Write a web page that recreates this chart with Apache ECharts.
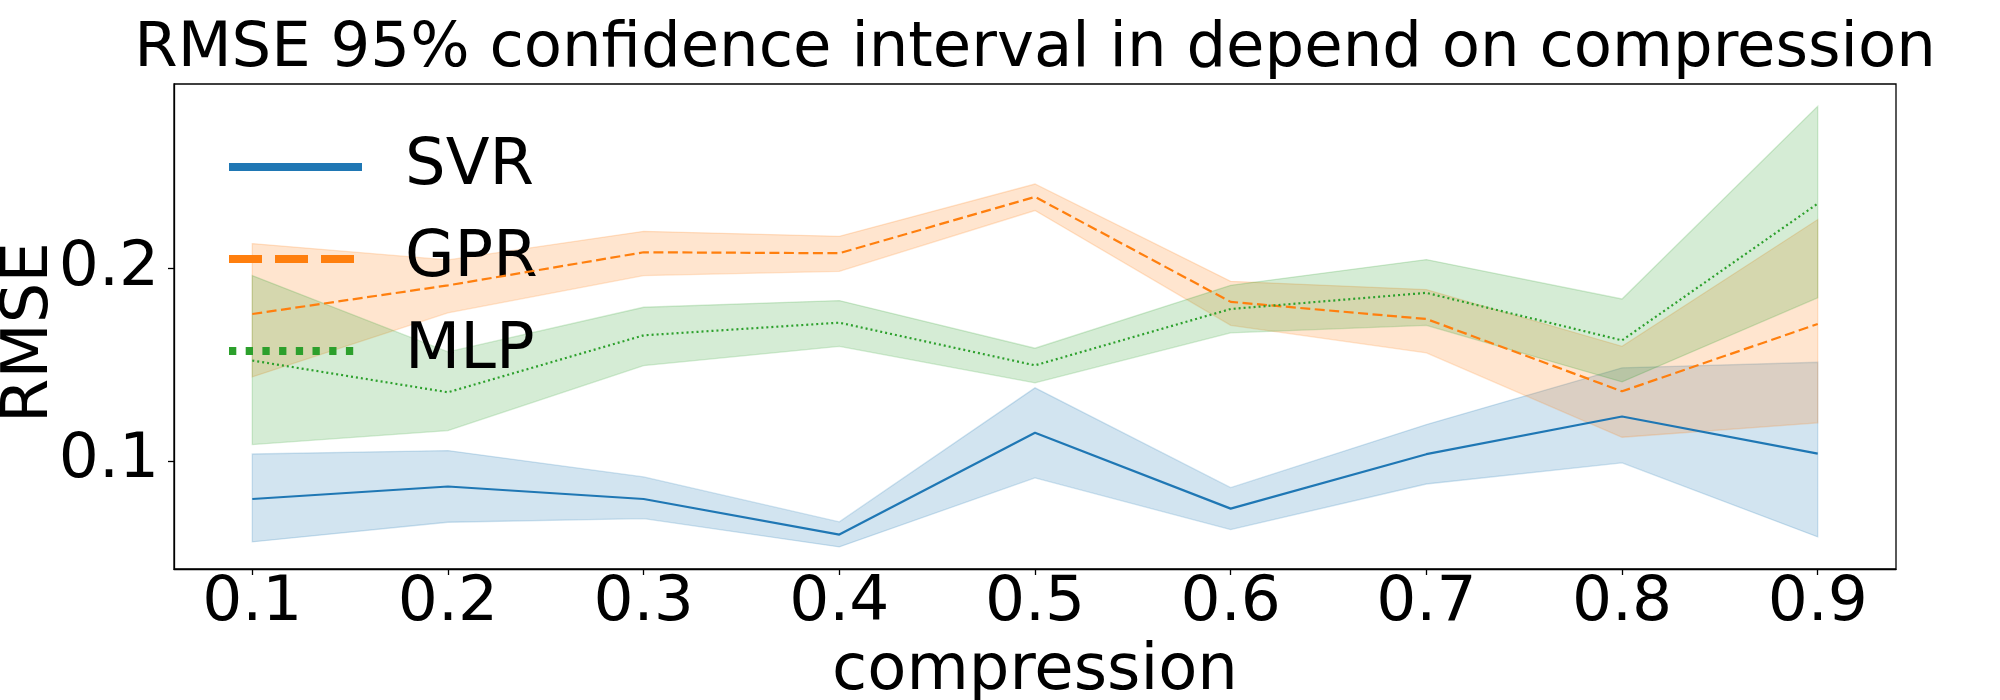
<!DOCTYPE html>
<html>
<head>
<meta charset="utf-8">
<script src="https://cdn.jsdelivr.net/npm/echarts@6/dist/echarts.min.js"></script>
<style>
html,body{margin:0;padding:0;background:#fff;}
#chart{width:2000px;height:700px;}
</style>
</head>
<body>
<div id="chart"></div>
<script>
const compression = [0.1, 0.2, 0.3, 0.4, 0.5, 0.6, 0.7, 0.8, 0.9];
const xTicks = [0.1, 0.2, 0.3, 0.4, 0.5, 0.6, 0.7, 0.8, 0.9];
const yTicks = [0.1, 0.2];

const svrMean  = [0.0802, 0.0867, 0.0802, 0.0617, 0.1146, 0.0752, 0.1035, 0.1231, 0.1038];
const svrLower = [0.0579, 0.0681, 0.0700, 0.0553, 0.0912, 0.0643, 0.0880, 0.0990, 0.0605];
const svrUpper = [0.1036, 0.1054, 0.0917, 0.0683, 0.1380, 0.0861, 0.1189, 0.1484, 0.1513];

const gprMean  = [0.1764, 0.1913, 0.2085, 0.2080, 0.2373, 0.1827, 0.1738, 0.1362, 0.1712];
const gprLower = [0.1437, 0.1770, 0.1964, 0.1986, 0.2302, 0.1705, 0.1562, 0.1123, 0.1198];
const gprUpper = [0.2130, 0.2045, 0.2194, 0.2168, 0.2440, 0.1934, 0.1891, 0.1596, 0.2255];

const mlpMean  = [0.1522, 0.1357, 0.1653, 0.1719, 0.1497, 0.1790, 0.1874, 0.1627, 0.2338];
const mlpLower = [0.1085, 0.1158, 0.1496, 0.1596, 0.1406, 0.1666, 0.1705, 0.1411, 0.1848];
const mlpUpper = [0.1964, 0.1567, 0.1799, 0.1834, 0.1586, 0.1913, 0.2047, 0.1842, 0.2844];

const FONT = 'DejaVu Sans';
const models = [
  {name: 'SVR', color: '#1f77b4', rgb: '31,119,180', mean: svrMean, lower: svrLower, upper: svrUpper,
   type: 'solid', legendType: 'solid'},
  {name: 'GPR', color: '#ff7f0e', rgb: '255,127,14', mean: gprMean, lower: gprLower, upper: gprUpper,
   type: [10, 4.5], legendType: [33, 13]},
  {name: 'MLP', color: '#2ca02c', rgb: '44,160,44', mean: mlpMean, lower: mlpLower, upper: mlpUpper,
   type: [2, 3], legendType: [7.3, 9.4]}
];

const series = [];
models.forEach((m) => {
  series.push({
    name: m.name + ' CI', type: 'custom', silent: true, z: 1,
    data: compression.map((x, i) => [x, m.lower[i], m.upper[i]]),
    encode: {x: 0, y: [1, 2]},
    renderItem: function (params, api) {
      if (params.dataIndex !== 0) return null;
      const pts = [];
      for (let j = 0; j < compression.length; j++) pts.push(api.coord([compression[j], m.upper[j]]));
      for (let j = compression.length - 1; j >= 0; j--) pts.push(api.coord([compression[j], m.lower[j]]));
      return {
        type: 'polygon',
        shape: {points: pts},
        style: {fill: 'rgba(' + m.rgb + ',0.2)', stroke: 'rgba(' + m.rgb + ',0.2)', lineWidth: 1.3}
      };
    }
  });
});
models.forEach((m) => {
  series.push({
    name: m.name, type: 'line', symbol: 'none',
    data: compression.map((x, i) => [x, m.mean[i]]),
    lineStyle: {color: m.color, width: 2.2, type: m.type},
    itemStyle: {color: m.color},
    z: 5
  });
});

const chart = echarts.init(document.getElementById('chart'), null, {renderer: 'canvas'});
chart.setOption({
  animation: false,
  backgroundColor: '#fff',
  title: {
    text: 'RMSE 95% confidence interval in depend on compression',
    left: 1035, top: 18, textAlign: 'center', padding: 0,
    textStyle: {fontFamily: FONT, fontSize: 62.5, fontWeight: 'normal', color: '#000'}
  },
  legend: {
    orient: 'vertical', left: 225, top: 135, itemWidth: 133, itemHeight: 20, itemGap: 28,
    padding: 0,
    textStyle: {fontFamily: FONT, fontSize: 64, color: '#000', padding: [0, 0, 0, 38]},
    data: models.map(m => ({
      name: m.name,
      itemStyle: {opacity: 0},
      lineStyle: {width: 8, type: m.legendType, color: m.color}
    }))
  },
  grid: {
    left: 174, top: 84, width: 1722, height: 485,
    outerBoundsMode: 'none', containLabel: false,
    show: true, borderColor: '#000', borderWidth: 1.3, backgroundColor: 'transparent'
  },
  xAxis: {
    type: 'value', min: 0.06, max: 0.94,
    name: 'compression', nameLocation: 'middle', nameGap: 67,
    nameTextStyle: {fontFamily: FONT, fontSize: 64, color: '#000'},
    axisLine: {show: true, onZero: false, lineStyle: {color: '#000', width: 1.3}},
    axisTick: {show: true, length: 6, lineStyle: {color: '#000', width: 1.3}, customValues: xTicks},
    axisLabel: {fontFamily: FONT, fontSize: 63, color: '#000', margin: 3,
      customValues: xTicks, formatter: v => Number(v).toFixed(1)},
    splitLine: {show: false}
  },
  yAxis: {
    type: 'value', min: 0.0438, max: 0.296,
    name: 'RMSE', nameLocation: 'middle', nameGap: 112, nameRotate: 90, nameMoveOverlap: false,
    nameTextStyle: {fontFamily: FONT, fontSize: 64, color: '#000', padding: [0, 12, 0, 0]},
    axisLine: {show: true, onZero: false, lineStyle: {color: '#000', width: 1.3}},
    axisTick: {show: true, length: 6, lineStyle: {color: '#000', width: 1.3}, customValues: yTicks},
    axisLabel: {fontFamily: FONT, fontSize: 63, color: '#000', margin: 15,
      customValues: yTicks, formatter: v => Number(v).toFixed(1)},
    splitLine: {show: false}
  },
  series: series
});
</script>
</body>
</html>
